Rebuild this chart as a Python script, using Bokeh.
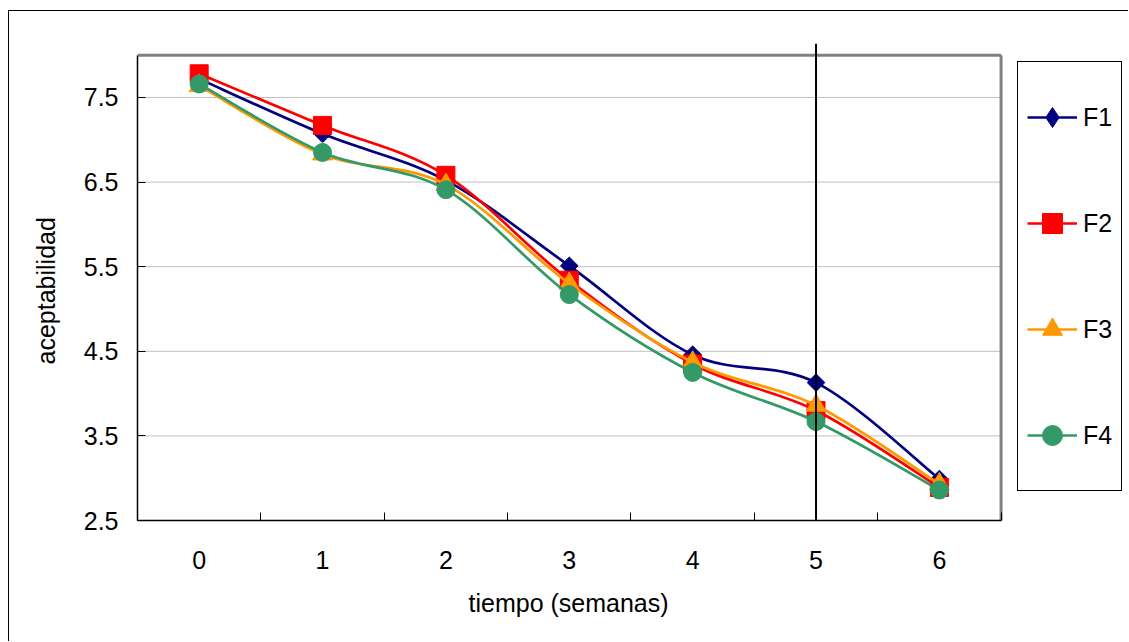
import math
import numpy as np
from bokeh.plotting import figure
from bokeh.models import Range1d, FixedTicker, Span, Legend, LegendItem, Title
from bokeh.embed import file_html
from bokeh.resources import INLINE

# ---------------- data ----------------
weeks = [0, 1, 2, 3, 4, 5, 6]
f1 = [7.72, 7.07, 6.52, 5.51, 4.46, 4.13, 2.99]
f2 = [7.78, 7.17, 6.58, 5.34, 4.35, 3.80, 2.89]
f3 = [7.64, 6.83, 6.47, 5.30, 4.37, 3.86, 2.93]
f4 = [7.66, 6.85, 6.41, 5.17, 4.25, 3.67, 2.86]
series_names = ["F1", "F2", "F3", "F4"]
y_ticks = [2.5, 3.5, 4.5, 5.5, 6.5, 7.5]
marked_week = 5
x_title = "tiempo (semanas)"
y_title = "aceptabilidad"

# ---------------- style ----------------
FONT = "Liberation Sans"
FS = "25px"
colors = ["#000080", "#FF0000", "#FF9900", "#339966"]
X_MIN, X_MAX = -0.5, 6.5
Y_MIN, Y_MAX = 2.5, 8.0

# the frame also covers the legend area on the right; the plot area is
# bounded by the axes (bounds) and the grey border lines drawn below
p = figure(width=1120, height=631,
           x_range=Range1d(X_MIN, 7.541), y_range=Range1d(Y_MIN, 8.138),
           output_backend="svg", toolbar_location=None,
           min_border_left=128, min_border_right=0,
           min_border_top=32, min_border_bottom=122)
p.margin = (10, 0, 0, 8)
p.styles = {"border-left": "1px solid black", "border-top": "1px solid black"}
p.outline_line_color = None
p.background_fill_color = "white"
p.border_fill_color = "white"

# x axis (category style: labels at weeks, ticks between)
p.xaxis.ticker = FixedTicker(ticks=weeks,
                             minor_ticks=[w - 0.5 for w in weeks] + [weeks[-1] + 0.5])
p.xaxis.bounds = (X_MIN, X_MAX)
p.xaxis.major_tick_line_color = None
p.xaxis.minor_tick_in = 8
p.xaxis.minor_tick_out = 0
p.xaxis.minor_tick_line_color = "black"
p.xaxis.major_label_standoff = 24

# y axis
p.yaxis.ticker = FixedTicker(ticks=y_ticks, minor_ticks=[])
p.yaxis.bounds = (Y_MIN, Y_MAX)
p.yaxis.major_tick_in = 8
p.yaxis.major_tick_out = 0
p.yaxis.major_tick_line_color = "black"
p.yaxis.major_label_standoff = 19

for ax in (p.xaxis[0], p.yaxis[0]):
    ax.axis_line_color = "black"
    ax.axis_line_width = 1.5
    ax.major_label_text_font = FONT
    ax.major_label_text_font_size = FS
    ax.major_label_text_color = "black"

# axis titles, centred on the plot area (not on the legend area)
p.add_layout(Title(text=x_title, align="left", offset=331, standoff=30,
                   text_font=FONT, text_font_size=FS, text_font_style="normal",
                   text_color="black"), "below")
p.add_layout(Title(text=y_title, align="left", offset=156, standoff=40,
                   vertical_align="middle",
                   text_font=FONT, text_font_size=FS, text_font_style="normal",
                   text_color="black"), "left")

p.xgrid.visible = False
p.ygrid.visible = False

# horizontal gridlines limited to the plot area
p.segment(x0=[X_MIN] * len(y_ticks), y0=y_ticks, x1=[X_MAX] * len(y_ticks), y1=y_ticks,
          line_color="#c0c0c0", line_width=1)

# grey plot-area border (top and right)
p.segment(x0=[X_MIN, X_MAX], y0=[Y_MAX, Y_MIN], x1=[X_MAX, X_MAX], y1=[Y_MAX, Y_MAX],
          line_color="#808080", line_width=3)

# vertical marker line
p.add_layout(Span(location=marked_week, dimension="height",
                  line_color="black", line_width=2))


def smooth_segments(xs, ys, t=1.0 / 6.0):
    n = len(xs)
    out = {k: [] for k in ("x0", "y0", "x1", "y1", "cx0", "cy0", "cx1", "cy1")}
    for i in range(n - 1):
        im = max(i - 1, 0)
        i2 = min(i + 2, n - 1)
        out["x0"].append(xs[i]); out["y0"].append(ys[i])
        out["x1"].append(xs[i + 1]); out["y1"].append(ys[i + 1])
        out["cx0"].append(xs[i] + (xs[i + 1] - xs[im]) * t)
        out["cy0"].append(ys[i] + (ys[i + 1] - ys[im]) * t)
        out["cx1"].append(xs[i + 1] - (xs[i2] - xs[i]) * t)
        out["cy1"].append(ys[i + 1] - (ys[i2] - ys[i]) * t)
    return out


all_series = [f1, f2, f3, f4]
markers = ["square", "square", "triangle", "circle"]
angles = [math.pi / 4, 0, 0, 0]
sizes = [12.5, 18, 20, 18]

items = []
for name, ys, col, mk, ang, sz in zip(series_names, all_series, colors, markers, angles, sizes):
    seg = smooth_segments(weeks, ys)
    p.bezier(line_color=col, line_width=2.7, line_cap="round", **seg)
    sc = p.scatter(weeks, ys, marker=mk, angle=ang, size=sz,
                   fill_color=col, line_color=col)
    leg_line = p.line([np.nan], [np.nan], line_color=col, line_width=2.7)
    if name == "F1":
        leg_mark = p.scatter([np.nan], [np.nan], marker="diamond", size=18,
                             fill_color=col, line_color=col)
    else:
        leg_mark = sc
    items.append(LegendItem(label=name, renderers=[leg_line, leg_mark]))

legend = Legend(items=items, location=(880, 29), orientation="vertical",
                glyph_width=50, glyph_height=92, label_height=92, spacing=14,
                padding=9, margin=0, label_standoff=6,
                border_line_color="black", border_line_width=1, border_line_alpha=1,
                background_fill_color="white", background_fill_alpha=1,
                label_text_font=FONT, label_text_font_size=FS,
                label_text_color="black")
p.add_layout(legend)

open("out.html", "w").write(file_html(p, INLINE))
